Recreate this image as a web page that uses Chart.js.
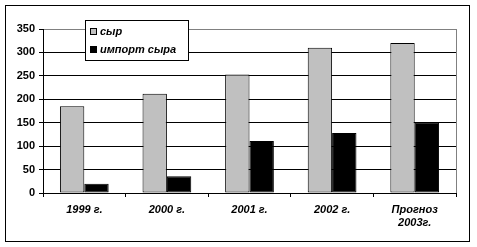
<!DOCTYPE html>
<html>
<head>
<meta charset="utf-8">
<script src="https://cdn.jsdelivr.net/npm/chart.js@4"></script>
<style>
  html, body { margin: 0; padding: 0; background: #fff; }
  #wrap { width: 477px; height: 247px; position: relative; }
</style>
</head>
<body>
<div id="wrap"><canvas id="cheese" width="477" height="247"></canvas></div>
<script>
const categories = ['1999 г.', '2000 г.', '2001 г.', '2002 г.', ['Прогноз', '2003г.']];
const cheese = [185, 212, 253, 310, 320];
const cheeseImport = [20, 36, 111, 128, 151];
const yTicks = [0, 50, 100, 150, 200, 250, 300, 350];

const FONT = '"Liberation Sans", Arial, sans-serif';

// legend sits on top of the plot, so draw it by hand
const frameAndLegend = {
    id: 'frameAndLegend',
    afterDraw(chart) {
        const ctx = chart.ctx;
        const area = chart.chartArea;
        ctx.save();
        // gray right edge of the plot
        ctx.strokeStyle = '#808080';
        ctx.lineWidth = 1;
        ctx.beginPath();
        ctx.moveTo(Math.round(area.right) + 0.5, area.top);
        ctx.lineTo(Math.round(area.right) + 0.5, area.bottom);
        ctx.stroke();

        // outer frame
        ctx.strokeStyle = '#000';
        ctx.strokeRect(5.5, 5.5, 464, 236);

        // legend
        const lx = 85.5, ly = 20.5, lw = 103, lh = 40;
        ctx.fillStyle = '#fff';
        ctx.fillRect(lx, ly, lw, lh);
        ctx.strokeRect(lx, ly, lw, lh);
        ctx.font = 'italic bold 11px ' + FONT;
        ctx.textBaseline = 'middle';
        chart.data.datasets.forEach((ds, i) => {
            const cy = 32 + i * 18;
            ctx.fillStyle = ds.backgroundColor;
            ctx.fillRect(90.5, cy - 3.5, 6, 6);
            ctx.strokeStyle = '#000';
            ctx.strokeRect(90.5, cy - 3.5, 6, 6);
            ctx.fillStyle = '#000';
            ctx.fillText(ds.label, 100, cy);
        });
        ctx.restore();
    }
};

new Chart(document.getElementById('cheese'), {
    type: 'bar',
    data: {
        labels: categories,
        datasets: [
            { label: 'сыр', data: cheese, backgroundColor: '#C0C0C0', borderColor: '#000', borderWidth: 1, borderSkipped: false },
            { label: 'импорт сыра', data: cheeseImport, backgroundColor: '#000', borderColor: '#000', borderWidth: 1, borderSkipped: false }
        ]
    },
    options: {
        responsive: false,
        animation: false,
        layout: { padding: { left: 0, top: 29, right: 21, bottom: 0 } },
        datasets: { bar: { categoryPercentage: 0.59, barPercentage: 1 } },
        plugins: { legend: { display: false }, tooltip: { enabled: false } },
        scales: {
            x: {
                afterFit(scale) { scale.height = 54; },
                grid: { drawOnChartArea: false, drawTicks: true, tickLength: 4, color: '#000', offset: true },
                border: { color: '#000', width: 1 },
                ticks: {
                    color: '#000',
                    padding: 6,
                    font: { family: FONT, size: 11, weight: 'bold', style: 'italic' }
                }
            },
            y: {
                min: 0,
                max: 350,
                afterFit(scale) { scale.width = 43; },
                afterBuildTicks(scale) { scale.ticks = yTicks.map(v => ({ value: v })); },
                grid: {
                    color: c => (c.tick && c.tick.value === 350 ? '#808080' : '#000'),
                    tickColor: '#000',
                    tickLength: 4
                },
                border: { color: '#000', width: 1 },
                ticks: {
                    color: '#000',
                    padding: 4,
                    font: { family: FONT, size: 11, weight: 'bold' }
                }
            }
        }
    },
    plugins: [frameAndLegend]
});
</script>
</body>
</html>
